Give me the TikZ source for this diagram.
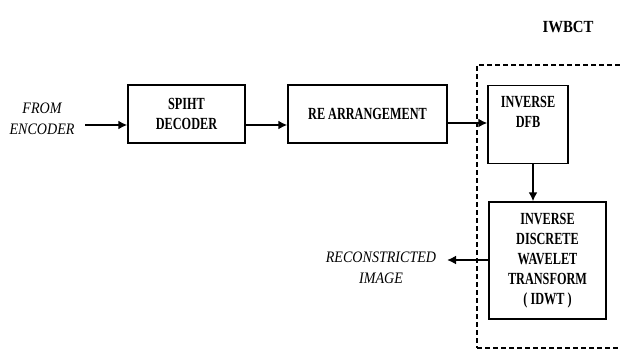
\documentclass[tikz,border=0pt]{standalone}
\usepackage{fontspec}
\setmainfont{Liberation Serif}
\newfontfamily\boxfont[FakeStretch=0.72]{Liberation Serif}
\newfontfamily\titfont[FakeStretch=0.87]{Liberation Serif}
\newfontfamily\itfont[FakeStretch=0.88]{Liberation Serif}
\usetikzlibrary{arrows.meta}
\begin{document}
\begin{tikzpicture}[x=1pt,y=-1pt,
  blk/.style={draw,line width=1.4pt,inner sep=0pt,font=\boxfont\bfseries\fontsize{17}{20}\selectfont,align=center},
  lbl/.style={font=\itfont\itshape\fontsize{16}{21}\selectfont,align=center},
  arr/.style={line width=2.6pt,-{Latex[length=9pt,width=9pt]}}]
\useasboundingbox (0,0) rectangle (620,350);
\begin{scope}
\clip (0,0) rectangle (620,350);
\node[draw,dash pattern=on 5pt off 3pt,line width=1.6pt,minimum width=150pt,minimum height=283pt,inner sep=0pt] (iwbct) at (552,206.5) {};
\end{scope}
\node[blk,minimum width=117pt,minimum height=58pt] (spiht) at (186.5,114) {SPIHT\\DECODER};
\node[blk,minimum width=159pt,minimum height=58pt] (rearr) at (367.5,114) {RE ARRANGEMENT};
\node[blk,minimum width=80pt,minimum height=78pt,anchor=north] (dfb) at (528,85) {};
\node[font=\boxfont\bfseries\fontsize{17}{20}\selectfont,align=center,anchor=north] (dfbt) at (dfb.north) [yshift=-8pt] {INVERSE\\DFB};
\node[blk,minimum width=117pt,minimum height=117pt] (idwt) at (547.5,260.5) {INVERSE\\DISCRETE\\WAVELET\\TRANSFORM\\( IDWT )};
\node[font=\titfont\bfseries\fontsize{17}{20}\selectfont] (iwbctl) at (568,27) {IWBCT};
\node[lbl,anchor=east] (enc) at (78,119) {FROM\\ENCODER};
\node[lbl] (rec) at (381,268) {RECONSTRICTED\\IMAGE};
\coordinate (encend) at (85,125);
\coordinate (recend) at (447,260);
\coordinate (dfbout) at ([xshift=5pt]dfb.south);
\draw[arr] (encend) -- (spiht.west |- encend);
\draw[arr] (spiht.east |- encend) -- (rearr.west |- encend);
\draw[arr] (rearr.east |- 0,123) -- (dfb.west |- 0,123);
\draw[arr] (dfbout) -- (idwt.north -| dfbout);
\draw[arr] (idwt.west |- recend) -- (recend);
\end{tikzpicture}
\end{document}
